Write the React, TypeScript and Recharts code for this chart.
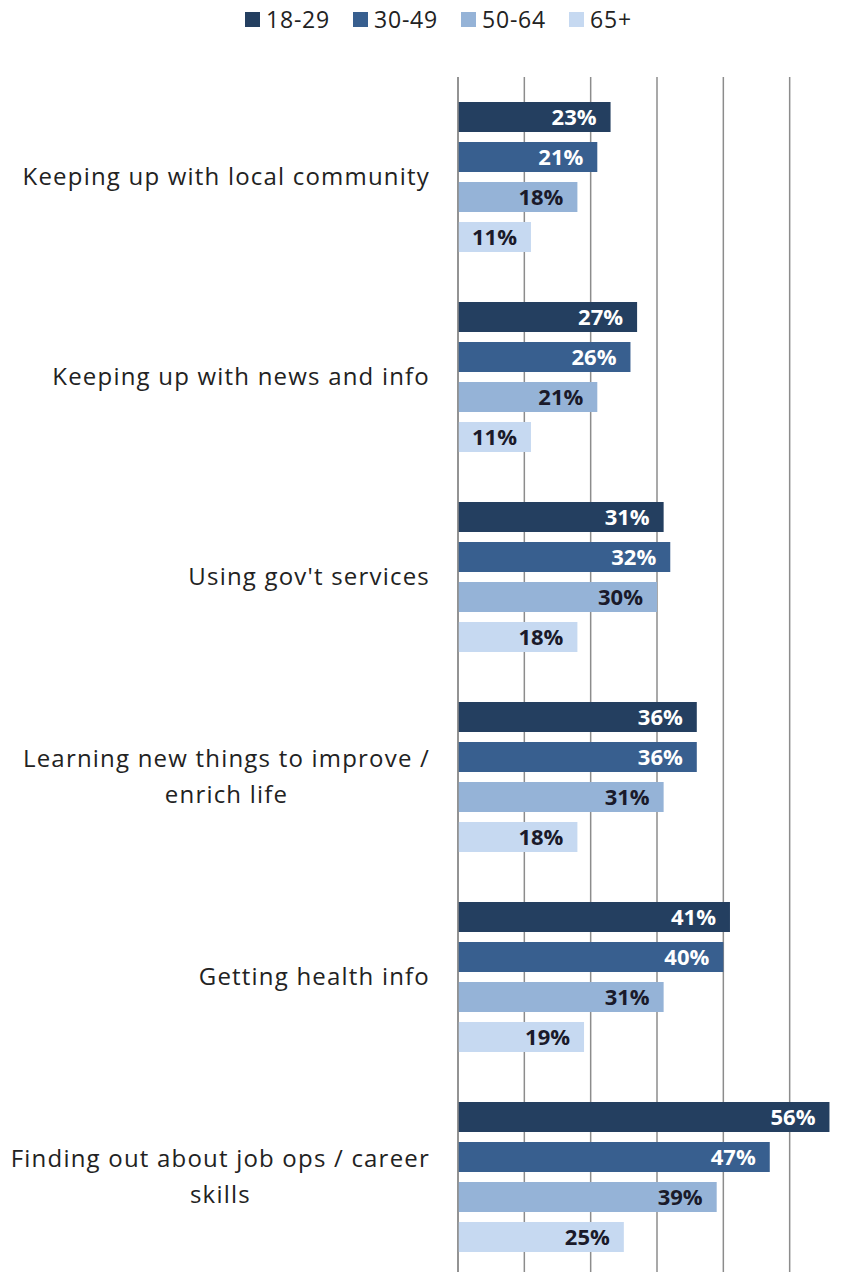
import { BarChart, Bar, XAxis, YAxis, CartesianGrid, LabelList } from "recharts"

const categories = [
  "Keeping up with local community",
  "Keeping up with news and info",
  "Using gov't services",
  "Learning new things to improve /\nenrich life",
  "Getting health info",
  "Finding out about job ops / career\nskills",
]
const seriesNames = ["18-29", "30-49", "50-64", "65+"]
const age18to29 = [23, 27, 31, 36, 41, 56]
const age30to49 = [21, 26, 32, 36, 40, 47]
const age50to64 = [18, 21, 30, 31, 31, 39]
const age65plus = [11, 11, 18, 18, 19, 25]
const xTicks = [0, 10, 20, 30, 40, 50, 60]

const colors = ["#243f60", "#385f8f", "#95b3d7", "#c6d9f1"]
const labelColors = ["#ffffff", "#ffffff", "#1a1a2a", "#1a1a2a"]
const FONT = '"Open Sans", sans-serif'
const FONT_SIZE = 24
const SPACING = 1.2

const data = categories.map((name, i) => ({
  name,
  s0: age18to29[i],
  s1: age30to49[i],
  s2: age50to64[i],
  s3: age65plus[i],
}))

// canvas used only to measure label widths so wrapped lines can be centred
const measureCtx = typeof document !== "undefined" ? document.createElement("canvas").getContext("2d") : null
function textWidth(s: string) {
  if (!measureCtx) return s.length * 12
  measureCtx.font = `${FONT_SIZE}px ${FONT}`
  return measureCtx.measureText(s).width + s.length * SPACING
}

function CategoryTick({ x, y, payload }: any) {
  const lines = String(payload.value).split("\n")
  const maxW = Math.max(...lines.map(textWidth))
  const center = x - maxW / 2
  return (
    <g>
      {lines.map((line, i) => (
        <text
          key={i}
          x={center}
          y={y + (i - (lines.length - 1) / 2) * 36}
          dy="0.35em"
          textAnchor="middle"
          fill="#222"
          fontSize={FONT_SIZE}
          fontFamily={FONT}
          letterSpacing={SPACING}
        >
          {line}
        </text>
      ))}
    </g>
  )
}

export default function App() {
  return (
    <div style={{ position: "absolute", left: 0, top: 0, width: 843, height: 1272, overflow: "hidden", background: "#fff", fontFamily: FONT }}>
      <div style={{ position: "absolute", left: 245, top: 3, display: "flex", fontSize: 23, letterSpacing: 0.8, color: "#222" }}>
        {seriesNames.map((s, i) => (
          <div key={s} style={{ width: 108, display: "flex", alignItems: "center" }}>
            <span style={{ display: "inline-block", width: 15, height: 15, background: colors[i], marginRight: 6 }} />
            <span>{s}</span>
          </div>
        ))}
      </div>
      <BarChart
        width={870}
        height={1290}
        data={data}
        layout="vertical"
        margin={{ top: 77, right: 14, bottom: 13, left: 0 }}
        barSize={30}
        barGap={10}
      >
        <CartesianGrid horizontal={false} stroke="#8c8c8c" strokeWidth={1.5} />
        <XAxis type="number" domain={[0, 60]} ticks={xTicks} hide />
        <YAxis
          type="category"
          dataKey="name"
          width={458}
          tickLine={false}
          tickSize={0}
          tickMargin={28}
          axisLine={{ stroke: "#8c8c8c", strokeWidth: 1.5 }}
          tick={<CategoryTick />}
          interval={0}
        />
        {["s0", "s1", "s2", "s3"].map((key, i) => (
          <Bar key={key} dataKey={key} name={seriesNames[i]} fill={colors[i]} isAnimationActive={false}>
            <LabelList
              dataKey={key}
              position="insideRight"
              offset={14}
              fill={labelColors[i]}
              fontSize={22}
              fontWeight="bold"
              fontFamily={FONT}
              formatter={(v: any) => `${v}%`}
            />
          </Bar>
        ))}
      </BarChart>
    </div>
  )
}
